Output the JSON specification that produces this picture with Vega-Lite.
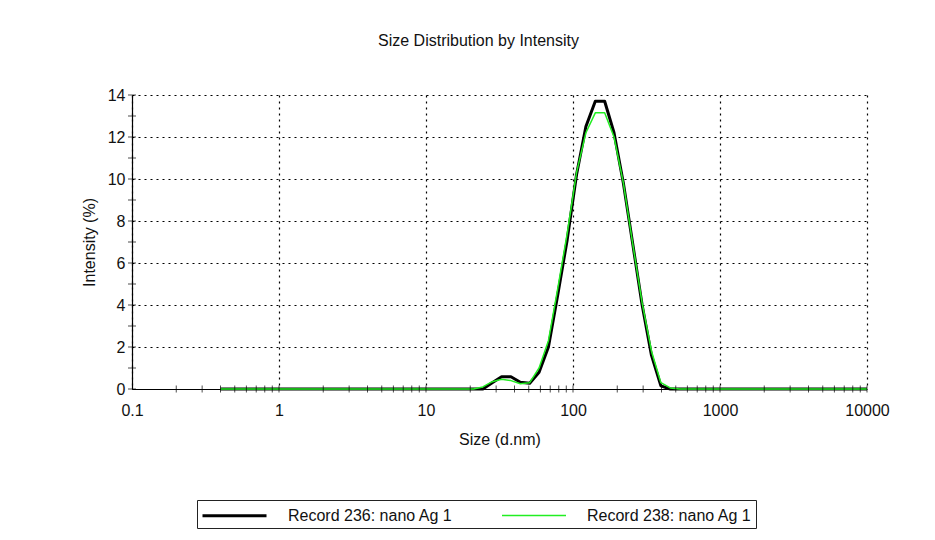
{
  "$schema": "https://vega.github.io/schema/vega-lite/v6.json",
  "width": 735,
  "height": 294,
  "autosize": {"type": "none"},
  "padding": {"left": 132, "top": 95, "right": 68, "bottom": 151},
  "background": "white",
  "config": {
    "font": "Liberation Sans",
    "view": {"stroke": null},
    "axis": {
      "labelFont": "Liberation Sans",
      "titleFont": "Liberation Sans",
      "labelFontSize": 16,
      "titleFontSize": 16,
      "titleFontWeight": "normal",
      "labelColor": "#111",
      "titleColor": "#111",
      "domainColor": "#000",
      "domainWidth": 1.2,
      "ticks": false,
      "tickSize": 0,
      "gridColor": "#000",
      "gridDash": [2, 4],
      "gridWidth": 1.2,
      "gridOpacity": 1
    }
  },
  "title": {
    "text": "Size Distribution by Intensity",
    "fontSize": 16,
    "fontWeight": "normal",
    "font": "Liberation Sans",
    "color": "#111",
    "anchor": "middle",
    "dx": -21,
    "offset": 38
  },
  "datasets": {
    "dist": [
      {"size": 0.4, "Record 236: nano Ag 1": 0, "Record 238: nano Ag 1": 0},
      {"size": 0.4632, "Record 236: nano Ag 1": 0, "Record 238: nano Ag 1": 0},
      {"size": 0.5365, "Record 236: nano Ag 1": 0, "Record 238: nano Ag 1": 0},
      {"size": 0.6213, "Record 236: nano Ag 1": 0, "Record 238: nano Ag 1": 0},
      {"size": 0.7195, "Record 236: nano Ag 1": 0, "Record 238: nano Ag 1": 0},
      {"size": 0.8332, "Record 236: nano Ag 1": 0, "Record 238: nano Ag 1": 0},
      {"size": 0.9649, "Record 236: nano Ag 1": 0, "Record 238: nano Ag 1": 0},
      {"size": 1.117, "Record 236: nano Ag 1": 0, "Record 238: nano Ag 1": 0},
      {"size": 1.294, "Record 236: nano Ag 1": 0, "Record 238: nano Ag 1": 0},
      {"size": 1.499, "Record 236: nano Ag 1": 0, "Record 238: nano Ag 1": 0},
      {"size": 1.736, "Record 236: nano Ag 1": 0, "Record 238: nano Ag 1": 0},
      {"size": 2.01, "Record 236: nano Ag 1": 0, "Record 238: nano Ag 1": 0},
      {"size": 2.328, "Record 236: nano Ag 1": 0, "Record 238: nano Ag 1": 0},
      {"size": 2.696, "Record 236: nano Ag 1": 0, "Record 238: nano Ag 1": 0},
      {"size": 3.122, "Record 236: nano Ag 1": 0, "Record 238: nano Ag 1": 0},
      {"size": 3.615, "Record 236: nano Ag 1": 0, "Record 238: nano Ag 1": 0},
      {"size": 4.187, "Record 236: nano Ag 1": 0, "Record 238: nano Ag 1": 0},
      {"size": 4.849, "Record 236: nano Ag 1": 0, "Record 238: nano Ag 1": 0},
      {"size": 5.615, "Record 236: nano Ag 1": 0, "Record 238: nano Ag 1": 0},
      {"size": 6.503, "Record 236: nano Ag 1": 0, "Record 238: nano Ag 1": 0},
      {"size": 7.531, "Record 236: nano Ag 1": 0, "Record 238: nano Ag 1": 0},
      {"size": 8.721, "Record 236: nano Ag 1": 0, "Record 238: nano Ag 1": 0},
      {"size": 10.1, "Record 236: nano Ag 1": 0, "Record 238: nano Ag 1": 0},
      {"size": 11.7, "Record 236: nano Ag 1": 0, "Record 238: nano Ag 1": 0},
      {"size": 13.54, "Record 236: nano Ag 1": 0, "Record 238: nano Ag 1": 0},
      {"size": 15.69, "Record 236: nano Ag 1": 0, "Record 238: nano Ag 1": 0},
      {"size": 18.17, "Record 236: nano Ag 1": 0, "Record 238: nano Ag 1": 0},
      {"size": 21.04, "Record 236: nano Ag 1": 0, "Record 238: nano Ag 1": 0},
      {"size": 24.36, "Record 236: nano Ag 1": 0, "Record 238: nano Ag 1": 0.1},
      {"size": 28.21, "Record 236: nano Ag 1": 0.3, "Record 238: nano Ag 1": 0.35},
      {"size": 32.67, "Record 236: nano Ag 1": 0.58, "Record 238: nano Ag 1": 0.46},
      {"size": 37.84, "Record 236: nano Ag 1": 0.58, "Record 238: nano Ag 1": 0.4},
      {"size": 43.82, "Record 236: nano Ag 1": 0.32, "Record 238: nano Ag 1": 0.25},
      {"size": 50.75, "Record 236: nano Ag 1": 0.27, "Record 238: nano Ag 1": 0.3},
      {"size": 58.77, "Record 236: nano Ag 1": 0.8, "Record 238: nano Ag 1": 1.0},
      {"size": 68.06, "Record 236: nano Ag 1": 2.0, "Record 238: nano Ag 1": 2.3},
      {"size": 78.82, "Record 236: nano Ag 1": 4.5, "Record 238: nano Ag 1": 4.8},
      {"size": 91.28, "Record 236: nano Ag 1": 7.1, "Record 238: nano Ag 1": 7.4},
      {"size": 105.7, "Record 236: nano Ag 1": 10.2, "Record 238: nano Ag 1": 10.3},
      {"size": 122.4, "Record 236: nano Ag 1": 12.5, "Record 238: nano Ag 1": 12.2},
      {"size": 141.8, "Record 236: nano Ag 1": 13.7, "Record 238: nano Ag 1": 13.15},
      {"size": 164.2, "Record 236: nano Ag 1": 13.7, "Record 238: nano Ag 1": 13.15},
      {"size": 190.1, "Record 236: nano Ag 1": 12.2, "Record 238: nano Ag 1": 12.0},
      {"size": 220.2, "Record 236: nano Ag 1": 9.8, "Record 238: nano Ag 1": 9.8},
      {"size": 255, "Record 236: nano Ag 1": 6.9, "Record 238: nano Ag 1": 6.9},
      {"size": 295.3, "Record 236: nano Ag 1": 4.0, "Record 238: nano Ag 1": 4.1},
      {"size": 342, "Record 236: nano Ag 1": 1.6, "Record 238: nano Ag 1": 1.8},
      {"size": 396.1, "Record 236: nano Ag 1": 0.15, "Record 238: nano Ag 1": 0.3},
      {"size": 458.7, "Record 236: nano Ag 1": 0, "Record 238: nano Ag 1": 0.05},
      {"size": 531.2, "Record 236: nano Ag 1": 0, "Record 238: nano Ag 1": 0},
      {"size": 615.1, "Record 236: nano Ag 1": 0, "Record 238: nano Ag 1": 0},
      {"size": 712.4, "Record 236: nano Ag 1": 0, "Record 238: nano Ag 1": 0},
      {"size": 825, "Record 236: nano Ag 1": 0, "Record 238: nano Ag 1": 0},
      {"size": 955.4, "Record 236: nano Ag 1": 0, "Record 238: nano Ag 1": 0},
      {"size": 1106, "Record 236: nano Ag 1": 0, "Record 238: nano Ag 1": 0},
      {"size": 1281, "Record 236: nano Ag 1": 0, "Record 238: nano Ag 1": 0},
      {"size": 1484, "Record 236: nano Ag 1": 0, "Record 238: nano Ag 1": 0},
      {"size": 1718, "Record 236: nano Ag 1": 0, "Record 238: nano Ag 1": 0},
      {"size": 1990, "Record 236: nano Ag 1": 0, "Record 238: nano Ag 1": 0},
      {"size": 2305, "Record 236: nano Ag 1": 0, "Record 238: nano Ag 1": 0},
      {"size": 2669, "Record 236: nano Ag 1": 0, "Record 238: nano Ag 1": 0},
      {"size": 3091, "Record 236: nano Ag 1": 0, "Record 238: nano Ag 1": 0},
      {"size": 3580, "Record 236: nano Ag 1": 0, "Record 238: nano Ag 1": 0},
      {"size": 4145, "Record 236: nano Ag 1": 0, "Record 238: nano Ag 1": 0},
      {"size": 4801, "Record 236: nano Ag 1": 0, "Record 238: nano Ag 1": 0},
      {"size": 5560, "Record 236: nano Ag 1": 0, "Record 238: nano Ag 1": 0},
      {"size": 6439, "Record 236: nano Ag 1": 0, "Record 238: nano Ag 1": 0},
      {"size": 7456, "Record 236: nano Ag 1": 0, "Record 238: nano Ag 1": 0},
      {"size": 8635, "Record 236: nano Ag 1": 0, "Record 238: nano Ag 1": 0},
      {"size": 10000, "Record 236: nano Ag 1": 0, "Record 238: nano Ag 1": 0}
    ],
    "xticks": [
      {"v": 0.2}, {"v": 0.3}, {"v": 0.4}, {"v": 0.5}, {"v": 0.6}, {"v": 0.7}, {"v": 0.8}, {"v": 0.9},
      {"v": 1}, {"v": 2}, {"v": 3}, {"v": 4}, {"v": 5}, {"v": 6}, {"v": 7}, {"v": 8}, {"v": 9},
      {"v": 10}, {"v": 20}, {"v": 30}, {"v": 40}, {"v": 50}, {"v": 60}, {"v": 70}, {"v": 80}, {"v": 90},
      {"v": 100}, {"v": 200}, {"v": 300}, {"v": 400}, {"v": 500}, {"v": 600}, {"v": 700}, {"v": 800}, {"v": 900},
      {"v": 1000}, {"v": 2000}, {"v": 3000}, {"v": 4000}, {"v": 5000}, {"v": 6000}, {"v": 7000}, {"v": 8000}, {"v": 9000},
      {"v": 10000}
    ],
    "yticks": [
      {"v": 0}, {"v": 1}, {"v": 2}, {"v": 3}, {"v": 4}, {"v": 5}, {"v": 6}, {"v": 7},
      {"v": 8}, {"v": 9}, {"v": 10}, {"v": 11}, {"v": 12}, {"v": 13}, {"v": 14}
    ]
  },
  "layer": [
    {
      "data": {"name": "dist"},
      "transform": [
        {"fold": ["Record 236: nano Ag 1", "Record 238: nano Ag 1"], "as": ["record", "intensity"]}
      ],
      "mark": {"type": "line", "interpolate": "linear", "strokeJoin": "round", "strokeCap": "butt"},
      "encoding": {
        "x": {
          "field": "size",
          "type": "quantitative",
          "scale": {"type": "log", "domain": [0.1, 10000], "nice": false},
          "axis": {
            "title": "Size (d.nm)",
            "values": [0.1, 1, 10, 100, 1000, 10000],
            "format": "~g",
            "grid": true,
            "labelPadding": 13,
            "titlePadding": 13,
            "labelFlush": false
          }
        },
        "y": {
          "field": "intensity",
          "type": "quantitative",
          "scale": {"domain": [0, 14], "nice": false},
          "axis": {
            "title": "Intensity (%)",
            "values": [0, 2, 4, 6, 8, 10, 12, 14],
            "grid": true,
            "labelPadding": 7,
            "titlePadding": 10
          }
        },
        "color": {
          "field": "record",
          "type": "nominal",
          "scale": {"domain": ["Record 236: nano Ag 1", "Record 238: nano Ag 1"], "range": ["#000000", "#22ee22"]},
          "legend": {
            "title": null,
            "orient": "none",
            "legendX": 65,
            "legendY": 405,
            "direction": "horizontal",
            "strokeColor": "#222",
            "padding": 4,
            "symbolType": "M-1,0H5.4",
            "symbolSize": 400,
            "symbolStrokeWidth": 3,
            "labelFontSize": 16,
            "labelFont": "Liberation Sans",
            "labelColor": "#111",
            "labelOffset": 64,
            "columnPadding": 46,
            "labelLimit": 300,
            "encode": {
              "symbols": {
                "update": {
                  "strokeWidth": {"signal": "datum.value === 'Record 236: nano Ag 1' ? 5 : 2"}
                }
              }
            }
          }
        },
        "strokeWidth": {
          "field": "record",
          "type": "nominal",
          "scale": {"domain": ["Record 236: nano Ag 1", "Record 238: nano Ag 1"], "range": [3, 1.5]},
          "legend": null
        }
      }
    },
    {
      "data": {"name": "xticks"},
      "mark": {"type": "tick", "orient": "vertical", "color": "#000", "size": 7, "thickness": 1},
      "encoding": {
        "x": {"field": "v", "type": "quantitative"},
        "y": {"datum": 0}
      }
    },
    {
      "data": {"name": "yticks"},
      "mark": {"type": "tick", "orient": "horizontal", "color": "#000", "size": 8, "thickness": 1},
      "encoding": {
        "y": {"field": "v", "type": "quantitative"},
        "x": {"datum": 0.1}
      }
    }
  ]
}
